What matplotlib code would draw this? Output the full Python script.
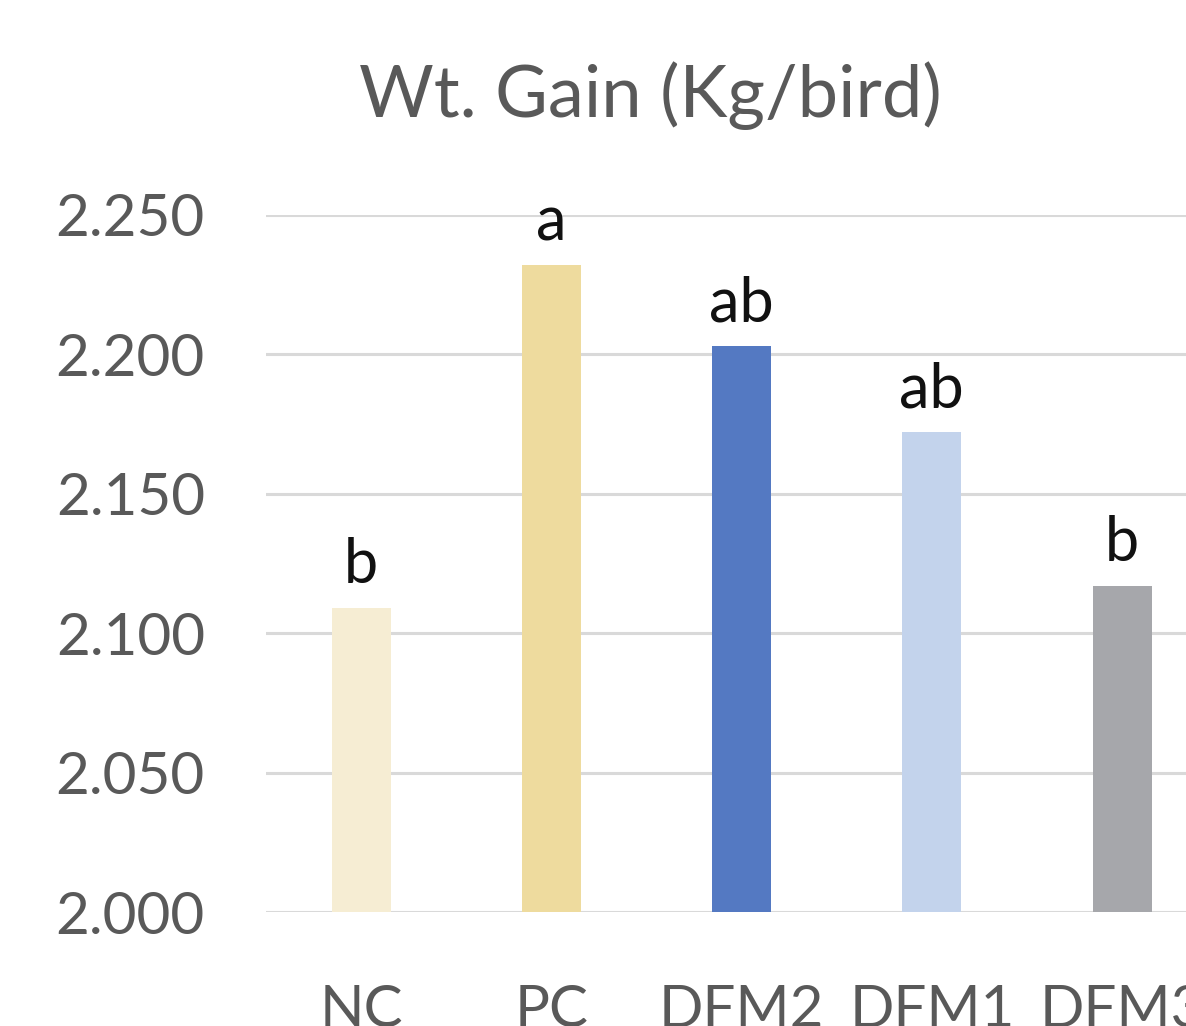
#!/usr/bin/env python3

import matplotlib
matplotlib.use('Agg')
import matplotlib.pyplot as plt

# data
groups = ['NC', 'PC', 'DFM2', 'DFM1', 'DFM3']
wt_gain = [2.109, 2.232, 2.203, 2.172, 2.117]
letters = ['b', 'a', 'ab', 'ab', 'b']
yticks = [2.000, 2.050, 2.100, 2.150, 2.200, 2.250]

colors = ['#F6EDD3', '#EEDB9E', '#5479C2', '#C3D3EC', '#A6A7AB']
text_grey = '#595959'


def main():
    plt.rcParams['font.family'] = ['Lato', 'DejaVu Sans']

    fig = plt.figure(figsize=(11.86, 10.26), dpi=100)
    ax = fig.add_axes([266 / 1186, 1 - 912 / 1026, 920 / 1186, 697 / 1026])

    x = list(range(len(groups)))
    ax.bar(x, wt_gain, width=0.31, color=colors, zorder=2)

    for xi, val, lab in zip(x, wt_gain, letters):
        ax.annotate(lab, (xi, val), xytext=(0, 18), textcoords='offset points',
                    ha='center', va='baseline', fontsize=44, color='#111111',
                    annotation_clip=False)

    ax.set_ylim(2.0, 2.25)
    ax.set_xlim(-0.5, 4.336)
    ax.set_yticks(yticks)
    ax.set_yticklabels(['{:.3f}'.format(v) for v in yticks])
    ax.set_xticks(x)
    ax.set_xticklabels(groups)

    ax.grid(axis='y', color='#D9D9D9', linewidth=2.2, zorder=0)
    ax.set_axisbelow(True)
    for s in ax.spines.values():
        s.set_visible(False)
    ax.tick_params(axis='y', length=0, pad=44, labelsize=42, labelcolor=text_grey)
    ax.tick_params(axis='x', length=0, pad=52, labelsize=42, labelcolor=text_grey)

    fig.text(650 / 1186, 1 - 117 / 1026, 'Wt. Gain (Kg/bird)', ha='center',
             va='baseline', fontsize=52, color=text_grey)

    fig.savefig('out.png', dpi=100)


if __name__ == '__main__':
    main()
